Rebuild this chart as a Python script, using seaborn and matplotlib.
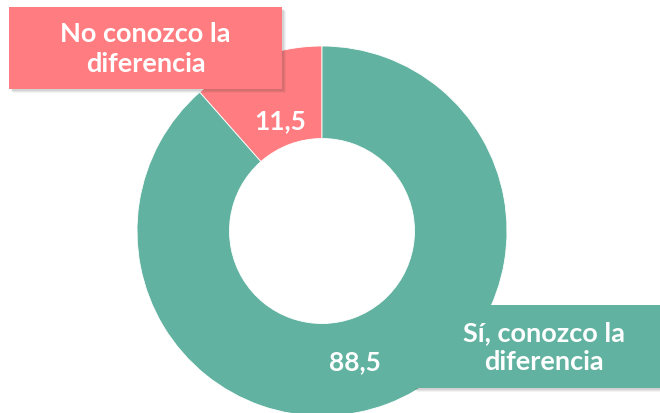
import matplotlib
matplotlib.use("Agg")
import matplotlib.pyplot as plt
import seaborn as sns
from matplotlib.patches import Rectangle

categories = ["No conozco la\ndiferencia", "Sí, conozco la\ndiferencia"]
values = [11.5, 88.5]
value_labels = ["11,5", "88,5"]
colors = ["#FF7C80", "#61B2A0"]

sns.set_theme(style="white")
plt.rcParams['font.family'] = ['Lato', 'DejaVu Sans']

W, H = 660, 414
fig = plt.figure(figsize=(6.6, 4.14), dpi=100)
ax = fig.add_axes([0, 0, 1, 1])

cx, cy = 322, H - 232
R = 185
wedges, _ = ax.pie(values, colors=colors, startangle=90, counterclock=True,
                   center=(cx, cy), radius=R, frame=True,
                   wedgeprops=dict(width=R * 0.5, edgecolor='white', linewidth=0.6))
ax.set_xlim(0, W)
ax.set_ylim(0, H)
ax.set_aspect('equal')
ax.axis('off')

# value labels
ax.text(280, H - 121, value_labels[0], ha='center', va='center', color='white',
        fontsize=19, fontweight='bold')
ax.text(355, H - 362, value_labels[1], ha='center', va='center', color='white',
        fontsize=19, fontweight='bold')

def box(x0, y0, x1, y1, color, text, z=5):
    # shadow
    for i, a in enumerate([0.10, 0.08, 0.06]):
        off = 2 + i
        ax.add_patch(Rectangle((x0 + off, H - y1 - off), x1 - x0, y1 - y0,
                               facecolor='#404040', alpha=a, edgecolor='none', zorder=z))
    ax.add_patch(Rectangle((x0, H - y1), x1 - x0, y1 - y0, facecolor=color,
                           edgecolor='none', zorder=z + 1))
    ax.text((x0 + x1) / 2, H - (y0 + y1) / 2, text, ha='center', va='center',
            color='white', fontsize=19.5, fontweight='bold', linespacing=1.25, zorder=z + 2)

box(9, 8, 282, 90, colors[0], categories[0])
box(413, 306, 675, 389, colors[1], categories[1])

fig.savefig("out.png", dpi=100)
